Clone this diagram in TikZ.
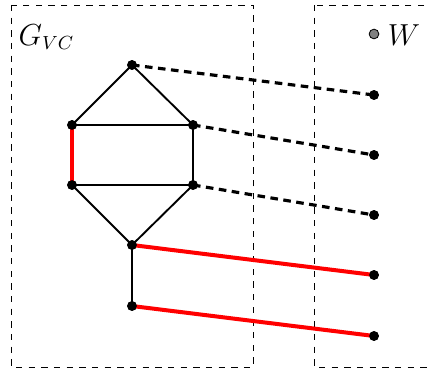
\documentclass[tikz,border=0pt]{standalone}
\usetikzlibrary{calc}
\begin{document}
\begin{tikzpicture}[x=0.0166667cm,y=-0.0166667cm,
  vdot/.style={circle,fill=black,inner sep=0pt,minimum size=4.6pt},
  gdot/.style={circle,fill=gray,draw=black,line width=0.4pt,inner sep=0pt,minimum size=4.6pt},
  boxline/.style={draw=black,line width=0.4pt,dash pattern=on 3pt off 3pt},
  gedge/.style={draw=black,line width=0.9pt},
  redge/.style={draw=red,line width=1.9pt},
  dedge/.style={draw=black,line width=1.5pt,dash pattern=on 3.6pt off 2.6pt},
  lab/.style={font=\fontsize{13.5}{16}\selectfont}]
\useasboundingbox (0,0) rectangle (428,372);
\clip (0,0) rectangle (428,372);
% boxes
\draw[boxline] (11,5) rectangle (253,367);
\draw[boxline] (314,5) rectangle (450,367);
% labels
\node[lab] (gvc) at (46.5,37) {$G_{VC}$};
\node[gdot] (wdot) at (374,34) {};
\node[lab] (wlab) at (404,35) {$W$};
% graph nodes
\node[vdot] (t) at (132,65) {};
\node[vdot] (lu) at (72,125) {};
\node[vdot] (ru) at (193,125) {};
\node[vdot] (ld) at (72,185) {};
\node[vdot] (rd) at (193,185) {};
\node[vdot] (b) at (132,245) {};
\node[vdot] (tl) at (132,306) {};
% W nodes
\node[vdot] (w1) at (374,95) {};
\node[vdot] (w2) at (374,155) {};
\node[vdot] (w3) at (374,215) {};
\node[vdot] (w4) at (374,275) {};
\node[vdot] (w5) at (374,336) {};
% graph edges
\draw[gedge] (t.center) -- (lu.center);
\draw[gedge] (t.center) -- (ru.center);
\draw[gedge] (lu.center) -- (ru.center);
\draw[gedge] (ld.center) -- (rd.center);
\draw[gedge] (ru.center) -- (rd.center);
\draw[gedge] (ld.center) -- (b.center);
\draw[gedge] (rd.center) -- (b.center);
\draw[gedge] (b.center) -- (tl.center);
\draw[redge] (lu.center) -- (ld.center);
% cross edges
\draw[dedge] (t.center) -- (w1.center);
\draw[dedge] (ru.center) -- (w2.center);
\draw[dedge] (rd.center) -- (w3.center);
\draw[redge] (b.center) -- (w4.center);
\draw[redge] (tl.center) -- (w5.center);
% redraw dots on top
\foreach \n in {t,lu,ru,ld,rd,b,tl,w1,w2,w3,w4,w5} {\fill (\n) circle (2.3pt);}
\end{tikzpicture}
\end{document}
